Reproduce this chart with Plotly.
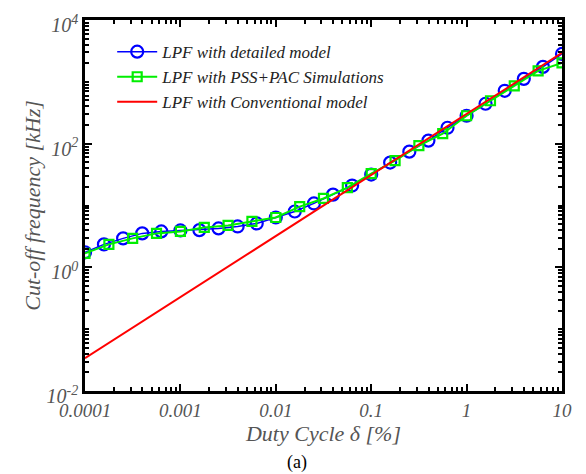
import plotly.graph_objects as go

# Detailed model (blue circles)
x_detailed = [0.0001, 0.000158, 0.000251, 0.000398, 0.000631, 0.001, 0.00158, 0.00251,
              0.00398, 0.00631, 0.01, 0.0158, 0.0251, 0.0398, 0.0631, 0.1, 0.158, 0.251,
              0.398, 0.631, 1.0, 1.58, 2.51, 3.98, 6.31, 10.0]
y_detailed = [1.75, 2.35, 2.94, 3.54, 3.81, 3.95, 4.0, 4.26, 4.58, 5.13, 6.4, 8.0, 10.8,
              15.0, 21.0, 31.6, 49.4, 74.3, 112, 181, 283, 442, 716, 1117, 1745, 2830]

# PSS+PAC simulations (green squares)
x_sim = [0.0001, 0.000178, 0.000316, 0.000562, 0.001, 0.00178, 0.00316, 0.00562, 0.01,
         0.0178, 0.0316, 0.0562, 0.1, 0.178, 0.316, 0.562, 1.0, 1.78, 3.16, 5.62, 10.0]
y_sim = [1.68, 2.35, 2.94, 3.54, 3.81, 4.42, 4.76, 5.52, 6.4, 9.6, 13.0, 19.5, 32.8,
         53.2, 92.8, 145, 283, 494, 862, 1504, 2025]

# Conventional model (red line)
x_conv = [0.0001, 10.0]
y_conv = [0.034, 2940]

x_tickvals = [0.0001, 0.001, 0.01, 0.1, 1, 10]
x_ticktext = ["0.0001", "0.001", "0.01", "0.1", "1", "10"]
y_tickvals = [0.01, 1, 100, 10000]
y_ticktext = ["10<sup>-2</sup>", "10<sup>0</sup>", "10<sup>2</sup>", "10<sup>4</sup>"]

x_decades = [0.0001, 0.001, 0.01, 0.1, 1]
y_decades = [0.01, 0.1, 1, 10, 100, 1000]
minor_digits = [2, 3, 4, 5, 6, 7, 8, 9]
x_minor = [d * m for d in x_decades for m in minor_digits]
y_minor = [d * m for d in y_decades for m in minor_digits] + [0.1, 10, 1000]

serif = "Liberation Serif"

fig = go.Figure()
fig.add_trace(go.Scatter(
    x=x_detailed, y=y_detailed, mode="lines+markers",
    name="LPF with detailed model",
    line=dict(color="#0000ff", width=1.5),
    marker=dict(symbol="circle-open", size=12, color="#0000ff", line=dict(width=2.2)),
))
fig.add_trace(go.Scatter(
    x=x_sim, y=y_sim, mode="lines+markers",
    name="LPF with PSS+PAC Simulations",
    line=dict(color="#00ee00", width=2),
    marker=dict(symbol="square-open", size=9, color="#00ee00", line=dict(width=2.2)),
))
fig.add_trace(go.Scatter(
    x=x_conv, y=y_conv, mode="lines",
    name="LPF with Conventional model",
    line=dict(color="#ff0000", width=2),
))

axis_common = dict(
    showline=True, linecolor="black", linewidth=2.5, mirror="ticks",
    ticks="inside", ticklen=7, tickwidth=2, tickcolor="black",
    showgrid=False, zeroline=False, automargin=False,
    ticklabeloverflow="allow",
)

fig.update_xaxes(
    type="log", range=[-4, 1],
    tickvals=x_tickvals, ticktext=x_ticktext,
    minor=dict(tickvals=x_minor, ticks="inside", ticklen=4, tickwidth=1.5,
               tickcolor="black", showgrid=False),
    tickfont=dict(family=serif, size=19, color="#555555", style="italic"),
    title=dict(text="Duty Cycle δ [%]", standoff=4,
               font=dict(family=serif, size=22, color="#555555", style="italic")),
    **axis_common,
)
fig.update_yaxes(
    type="log", range=[-2, 4],
    tickvals=y_tickvals, ticktext=y_ticktext,
    ticklabelshift=5,
    minor=dict(tickvals=y_minor, ticks="inside", ticklen=4, tickwidth=1.5,
               tickcolor="black", showgrid=False),
    tickfont=dict(family=serif, size=20, color="#555555", style="italic"),
    title=dict(text="Cut-off frequency [kHz]", standoff=0,
               font=dict(family=serif, size=22, color="#555555", style="italic")),
    **axis_common,
)

fig.add_annotation(
    text="(a)", xref="paper", yref="paper", x=0.445, y=-0.193,
    xanchor="center", yanchor="middle",
    showarrow=False, font=dict(family=serif, size=18, color="black"),
)

# the page body adds an 8px offset, so the figure is sized to compensate
fig.update_layout(
    width=578, height=466,
    margin=dict(l=77, r=24, t=12, b=83),
    paper_bgcolor="white", plot_bgcolor="white",
    legend=dict(
        x=0.057, y=0.962, xanchor="left", yanchor="top",
        bgcolor="rgba(255,255,255,0)", borderwidth=0,
        font=dict(family=serif, size=17, color="#222222", style="italic"),
        tracegroupgap=0, itemwidth=40,
    ),
)

fig.write_html("out.html")
